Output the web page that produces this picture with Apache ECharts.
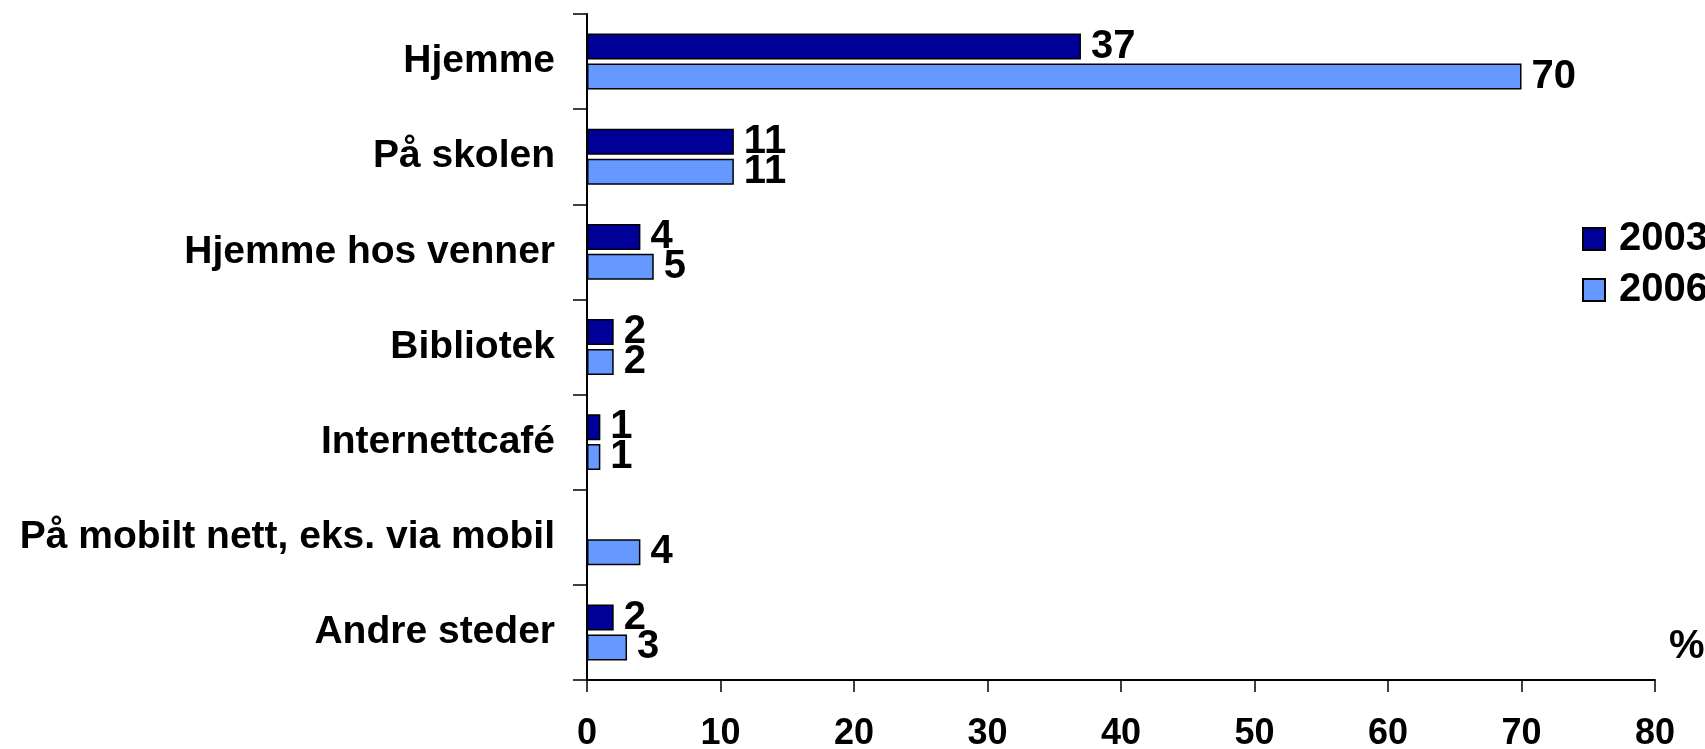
<!DOCTYPE html>
<html>
<head>
<meta charset="utf-8">
<script src="https://cdn.jsdelivr.net/npm/echarts@6/dist/echarts.min.js"></script>
<style>
html,body{margin:0;padding:0;background:#fff;}
#chart{width:1705px;height:749px;}
</style>
</head>
<body>
<div id="chart"></div>
<script>
const categories = ['Hjemme', 'På skolen', 'Hjemme hos venner', 'Bibliotek', 'Internettcafé', 'På mobilt nett, eks. via mobil', 'Andre steder'];
const values2003 = [37, 11, 4, 2, 1, null, 2];
const values2006 = [70, 11, 5, 2, 1, 4, 3];
const xTicks = [0, 10, 20, 30, 40, 50, 60, 70, 80];

const FONT = '"Liberation Sans", Arial, sans-serif';
const chart = echarts.init(document.getElementById('chart'), null, {renderer: 'canvas'});

const labelCfg = {
  show: true, position: 'right', distance: 10,
  fontFamily: FONT, fontWeight: 'bold', fontSize: 40, color: '#000',
  formatter: p => (p.value == null ? '' : p.value)
};

chart.setOption({
  animation: false,
  backgroundColor: '#fff',
  grid: {left: 587, right: 50, top: 14, bottom: 69, containLabel: false, outerBoundsMode: 'none'},
  title: {
    text: '%', left: 1664, top: 622,
    textStyle: {fontFamily: FONT, fontWeight: 'bold', fontSize: 40, color: '#000'}
  },
  legend: {
    orient: 'vertical', left: 1577, top: 214,
    itemWidth: 22, itemHeight: 22, itemGap: 11,
    icon: 'rect',
    data: ['2003', '2006'],
    textStyle: {fontFamily: FONT, fontWeight: 'bold', fontSize: 40, color: '#000', padding: [0, 0, 0, 9]}
  },
  xAxis: {
    type: 'value', min: 0, max: 80, interval: 10,
    axisLine: {show: true, lineStyle: {color: '#000', width: 2}},
    axisTick: {show: true, length: 12, lineStyle: {color: '#000', width: 1.5}},
    splitLine: {show: false},
    axisLabel: {
      margin: 36, fontFamily: FONT, fontWeight: 'bold', fontSize: 36, color: '#000',
      formatter: v => (xTicks.indexOf(v) >= 0 ? String(v) : '')
    }
  },
  yAxis: {
    type: 'category', data: categories, inverse: true,
    axisLine: {show: true, lineStyle: {color: '#000', width: 2}},
    axisTick: {show: true, length: 14, lineStyle: {color: '#000', width: 1.5}},
    axisLabel: {margin: 32, fontFamily: FONT, fontWeight: 'bold', fontSize: 39, color: '#000'}
  },
  series: [
    {
      name: '2003', type: 'bar', data: values2003,
      barWidth: 26, barGap: '15%',
      itemStyle: {color: '#000099', borderColor: '#000', borderWidth: 1.5},
      label: labelCfg
    },
    {
      name: '2006', type: 'bar', data: values2006,
      barWidth: 26, barGap: '15%',
      itemStyle: {color: '#6699FF', borderColor: '#000', borderWidth: 1.5},
      label: labelCfg
    }
  ]
});
</script>
</body>
</html>
